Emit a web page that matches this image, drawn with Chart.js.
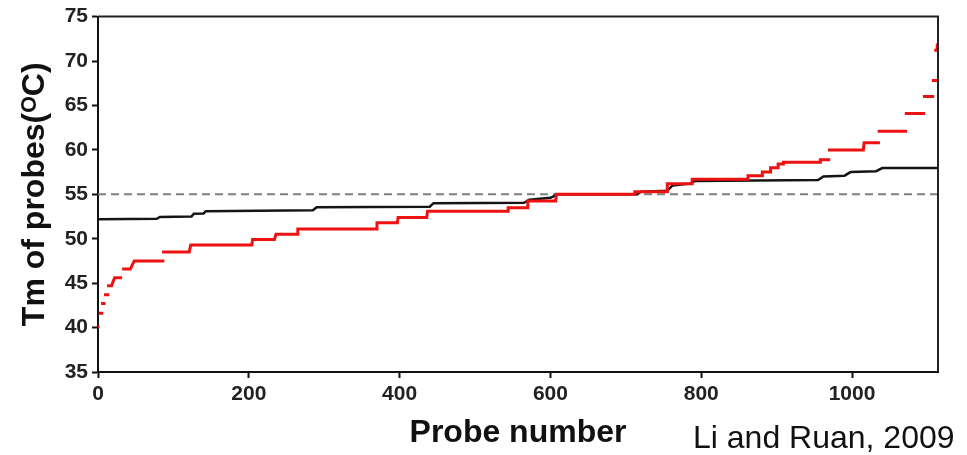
<!DOCTYPE html>
<html>
<head>
<meta charset="utf-8">
<script src="https://cdn.jsdelivr.net/npm/chart.js@4.4.1/dist/chart.umd.min.js"></script>
<style>
    html, body { margin: 0; padding: 0; background: #fff; }
    #wrap { width: 967px; height: 455px; }
</style>
</head>
<body>
<div id="wrap"><canvas id="tm-chart" width="967" height="455"></canvas></div>
<script>
// Probe Tm sorted by probe number
// red: step segments (start probe, end probe, Tm)
const redStart = [0, 3, 6, 10, 14, 22, 34, 48, 87, 123, 205, 236, 265, 370, 398, 437, 544, 570, 608, 712,
    755, 788, 862, 881, 892, 902, 909, 958, 970, 1016, 1036, 1072, 1096, 1108, 1111, 1113];
const redEnd = [1, 5, 8, 13, 18, 30, 43, 86, 121, 204, 234, 264, 369, 397, 436, 544, 569, 607, 712, 755,
    788, 862, 881, 892, 902, 909, 958, 969, 1015, 1035, 1071, 1095, 1107, 1111, 1113, 1114];
const redTm = [40.1, 41.6, 42.7, 43.7, 44.7, 45.6, 46.6, 47.5, 48.5, 49.3, 49.9, 50.5, 51.1, 51.8, 52.4, 53.1, 53.5, 54.25, 55.0, 55.3,
    56.2, 56.7, 57.1, 57.5, 58.0, 58.4, 58.6, 58.9, 60.0, 60.8, 62.1, 64.1, 66.0, 67.8, 71.2, 71.8];

// black: optimised probe set
const blackX = [0, 78, 82, 124, 127, 140, 143, 285, 290, 440, 445, 565, 572, 600, 610, 715, 720, 755, 762, 785,
    792, 955, 962, 990, 998, 1032, 1040, 1114];
const blackTm = [52.2, 52.25, 52.45, 52.5, 52.8, 52.85, 53.1, 53.2, 53.55, 53.6, 54.0, 54.05, 54.4, 54.6, 55.0, 55.0, 55.3, 55.4, 56.0, 56.2,
    56.5, 56.6, 57.0, 57.1, 57.5, 57.6, 57.95, 57.95];

const targetTm = 55;
const probeMax = 1114;
const xTicks = [0, 200, 400, 600, 800, 1000];
const yTicks = [35, 40, 45, 50, 55, 60, 65, 70, 75];
const xTitle = 'Probe number';
const yTitle = 'Tm of probes(\u1D3CC)';
const citation = 'Li and Ruan, 2009';

const FONT = '"Liberation Sans", Arial, sans-serif';

const redPoints = [];
redStart.forEach((s, i) => {
    redPoints.push({ x: s, y: redTm[i] });
    redPoints.push({ x: redEnd[i], y: redTm[i] });
});
const blackPoints = blackX.map((x, i) => ({ x: x, y: blackTm[i] }));

const framePlugin = {
    id: 'frame',
    afterDatasetsDraw(chart) {
        const { ctx, chartArea: a } = chart;
        ctx.save();
        ctx.strokeStyle = '#222';
        ctx.lineWidth = 2;
        ctx.beginPath();
        ctx.moveTo(a.left, a.top);
        ctx.lineTo(a.right, a.top);
        ctx.lineTo(a.right, a.bottom);
        ctx.stroke();
        ctx.restore();
    },
    afterDraw(chart) {
        const ctx = chart.ctx;
        ctx.save();
        ctx.font = '32px ' + FONT;
        ctx.fillStyle = '#111';
        ctx.textBaseline = 'alphabetic';
        ctx.fillText(citation, 693, 448);
        ctx.restore();
    }
};

function fixedTicks(list) {
    return scale => { scale.ticks = list.map(v => ({ value: v })); };
}

new Chart(document.getElementById('tm-chart'), {
    type: 'line',
    data: {
        datasets: [
            {
                data: redPoints,
                borderColor: '#ee1111',
                borderWidth: 3,
                borderCapStyle: 'square',
                pointRadius: 0,
                tension: 0,
                segment: {
                    borderColor: ctx => Math.abs(ctx.p1.parsed.y - ctx.p0.parsed.y) >= 1 ? 'transparent' : undefined,
                },
            },
            {
                data: blackPoints,
                borderColor: '#151515',
                borderWidth: 2.5,
                pointRadius: 0,
                tension: 0,
            },
            {
                data: [{ x: 0, y: targetTm }, { x: probeMax, y: targetTm }],
                borderColor: '#7f7f7f',
                borderWidth: 2,
                borderDash: [8, 5],
                pointRadius: 0,
            },
        ],
    },
    options: {
        responsive: false,
        animation: false,
        events: [],
        layout: { padding: { left: 0, top: 16, right: 29, bottom: 0 } },
        plugins: {
            legend: { display: false },
            tooltip: { enabled: false },
        },
        scales: {
            x: {
                type: 'linear',
                min: 0,
                max: probeMax,
                afterBuildTicks: fixedTicks(xTicks),
                afterFit: scale => { scale.height = 83; },
                border: { display: true, color: '#111', width: 2 },
                grid: { drawOnChartArea: false, drawTicks: true, tickLength: 6, tickColor: '#111', tickWidth: 2 },
                ticks: {
                    color: '#222', font: { family: FONT, size: 21, weight: 'bold' }, padding: 4, maxRotation: 0,
                    callback: v => String(v),
                },
                title: {
                    display: true, text: xTitle, color: '#111',
                    font: { family: FONT, size: 32, weight: 'bold', lineHeight: 1.2 },
                    padding: { top: 0, bottom: 3 },
                },
            },
            y: {
                type: 'linear',
                min: 35,
                max: 75,
                afterBuildTicks: fixedTicks(yTicks),
                afterFit: scale => { scale.width = 98; },
                border: { display: true, color: '#111', width: 2 },
                grid: { drawOnChartArea: false, drawTicks: true, tickLength: 6, tickColor: '#111', tickWidth: 2 },
                ticks: {
                    color: '#222', font: { family: FONT, size: 21, weight: 'bold' }, padding: 4,
                    callback: v => String(v),
                },
                title: {
                    display: true, text: yTitle, color: '#111',
                    font: { family: FONT, size: 32, weight: 'bold', lineHeight: 1.2 },
                    padding: { top: 16, bottom: 0 },
                },
            },
        },
    },
    plugins: [framePlugin],
});
</script>
</body>
</html>
